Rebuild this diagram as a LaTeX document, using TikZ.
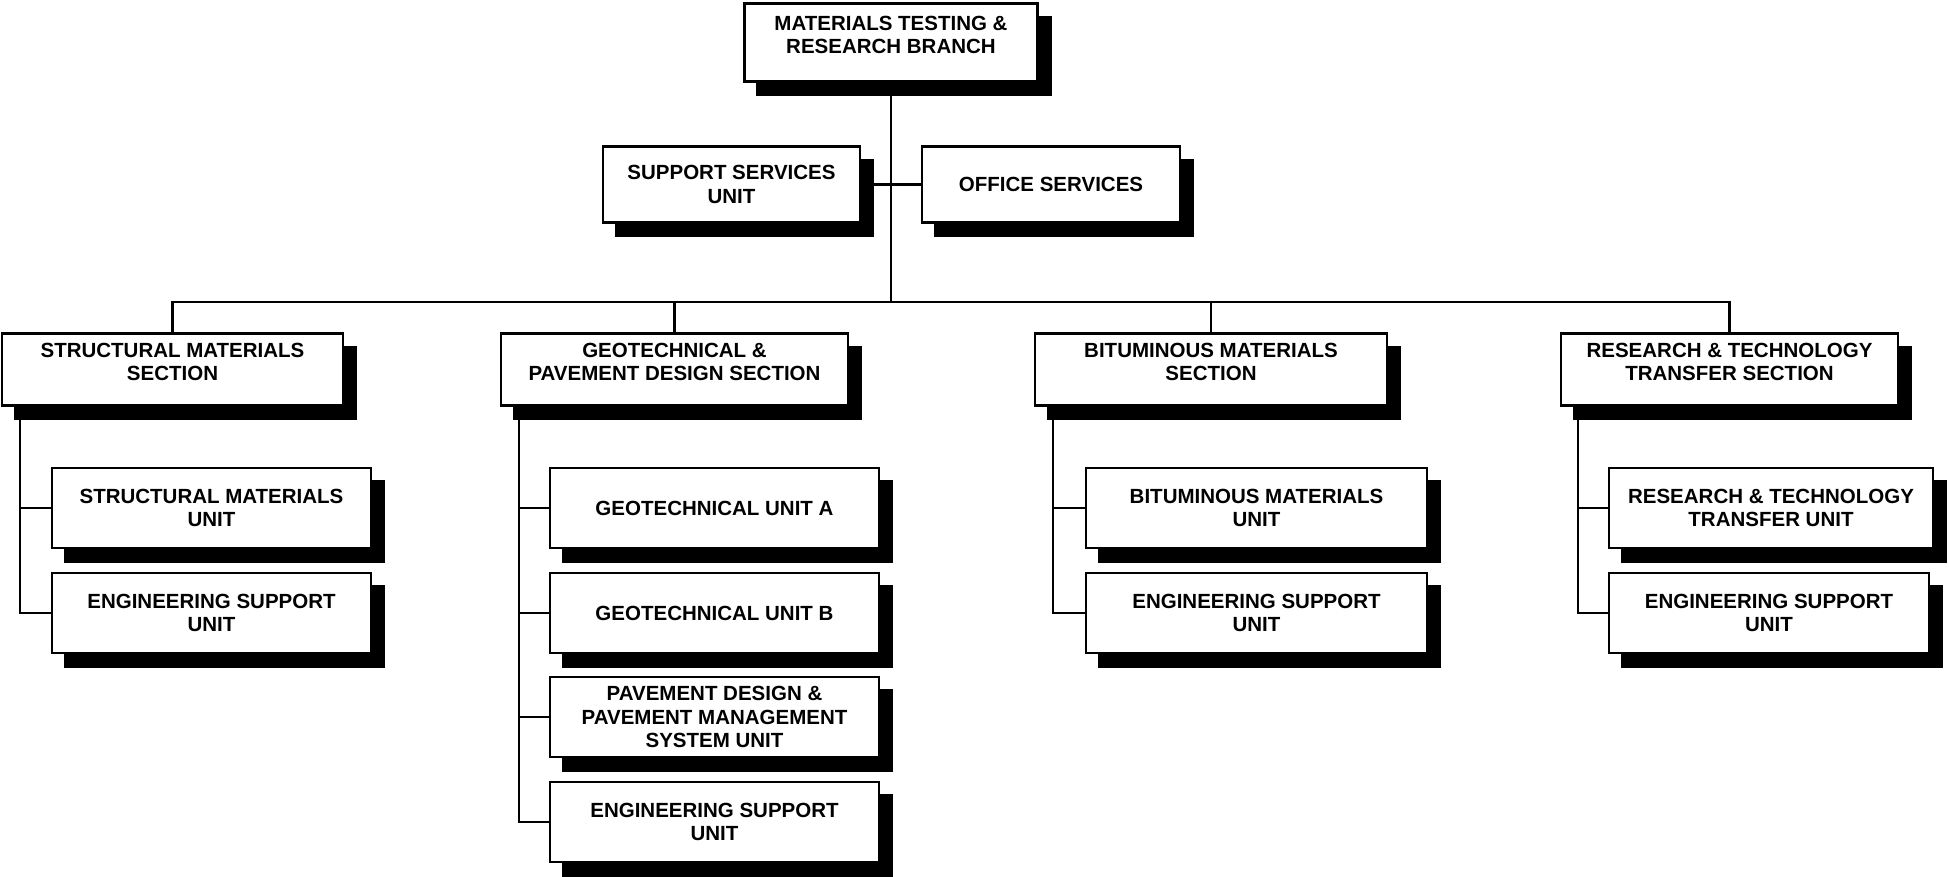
\documentclass[tikz,border=0pt]{standalone}
\usepackage{fontspec}
\setmainfont{Liberation Sans}
\usetikzlibrary{shadows}
\pgfdeclarelayer{bg}
\pgfsetlayers{bg,main}
\begin{document}
\begin{tikzpicture}[x=1pt,y=-1pt,
  every node/.style={font=\bfseries\fontsize{20.5}{23.5}\selectfont, align=center, inner sep=0pt},
  box/.style={draw=black, line width=2.5pt, fill=white,
    drop shadow={shadow xshift=13pt, shadow yshift=-13.5pt, opacity=1, fill=black, draw=black, line width=2.5pt}},
  topbox/.style={box, minimum width=293pt, minimum height=78pt},
  svcbox/.style={box, minimum height=76pt},
  secbox/.style={box, minimum height=72pt},
  unitbox/.style={box, minimum height=80pt},
  link/.style={line width=2.3pt, draw=black}]
\useasboundingbox (0,0) rectangle (1949,877);

% top level
\node[topbox] (top) at (891,42.5) {};
\node (topt) at (891,35) {MATERIALS TESTING \&\\RESEARCH BRANCH};

\node[svcbox, minimum width=257pt] (sup) at (731.5,184.5) {SUPPORT SERVICES\\UNIT};
\node[svcbox, minimum width=258pt] (off) at (1051,184.5) {OFFICE SERVICES};

% sections
\node[secbox, minimum width=341pt] (sm) at (172.5,369.7) {};
\node (smt) at (172.5,361.7) {STRUCTURAL MATERIALS\\SECTION};
\node[secbox, minimum width=347pt] (gp) at (674.5,369.7) {};
\node (gpt) at (674.5,361.7) {GEOTECHNICAL \&\\PAVEMENT DESIGN SECTION};
\node[secbox, minimum width=352pt] (bm) at (1211,369.7) {};
\node (bmt) at (1211,361.7) {BITUMINOUS MATERIALS\\SECTION};
\node[secbox, minimum width=337pt] (rt) at (1729.5,369.7) {};
\node (rtt) at (1729.5,361.7) {RESEARCH \& TECHNOLOGY\\TRANSFER SECTION};

% units
\node[unitbox, minimum width=319pt] (smA) at (211.5,508) {STRUCTURAL MATERIALS\\UNIT};
\node[unitbox, minimum width=319pt] (smB) at (211.5,613) {ENGINEERING SUPPORT\\UNIT};

\node[unitbox, minimum width=329pt] (gpA) at (714.5,508) {GEOTECHNICAL UNIT A};
\node[unitbox, minimum width=329pt] (gpB) at (714.5,613) {GEOTECHNICAL UNIT B};
\node[unitbox, minimum width=329pt] (gpC) at (714.5,717) {PAVEMENT DESIGN \&\\PAVEMENT MANAGEMENT\\SYSTEM UNIT};
\node[unitbox, minimum width=329pt] (gpD) at (714.5,822) {ENGINEERING SUPPORT\\UNIT};

\node[unitbox, minimum width=341pt] (bmA) at (1256.5,508) {BITUMINOUS MATERIALS\\UNIT};
\node[unitbox, minimum width=341pt] (bmB) at (1256.5,613) {ENGINEERING SUPPORT\\UNIT};

\node[unitbox, minimum width=324pt] (rtA) at (1771,508) {RESEARCH \& TECHNOLOGY\\TRANSFER UNIT};
\node[unitbox, minimum width=320pt] (rtB) at (1769,613) {ENGINEERING SUPPORT\\UNIT};

\begin{pgfonlayer}{bg}
\coordinate (hub) at (891,302);
\draw[link] (top.south) -- (hub);
\draw[link] (sup.east) -- (off.west);
\draw[link] (sm.north) |- (hub) -| (rt.north);
\draw[link] (gp.north) -- (gp.north |- hub);
\draw[link] (bm.north) -- (bm.north |- hub);

\coordinate (smv) at ([xshift=19pt]sm.south west);
\draw[link] (smv) |- (smB.west);
\draw[link] (smA.west) -- (smA.west -| smv);

\coordinate (gpv) at ([xshift=19pt]gp.south west);
\draw[link] (gpv) |- (gpD.west);
\draw[link] (gpA.west) -- (gpA.west -| gpv);
\draw[link] (gpB.west) -- (gpB.west -| gpv);
\draw[link] (gpC.west) -- (gpC.west -| gpv);

\coordinate (bmv) at ([xshift=19pt]bm.south west);
\draw[link] (bmv) |- (bmB.west);
\draw[link] (bmA.west) -- (bmA.west -| bmv);

\coordinate (rtv) at ([xshift=18pt]rt.south west);
\draw[link] (rtv) |- (rtB.west);
\draw[link] (rtA.west) -- (rtA.west -| rtv);
\end{pgfonlayer}
\end{tikzpicture}
\end{document}
